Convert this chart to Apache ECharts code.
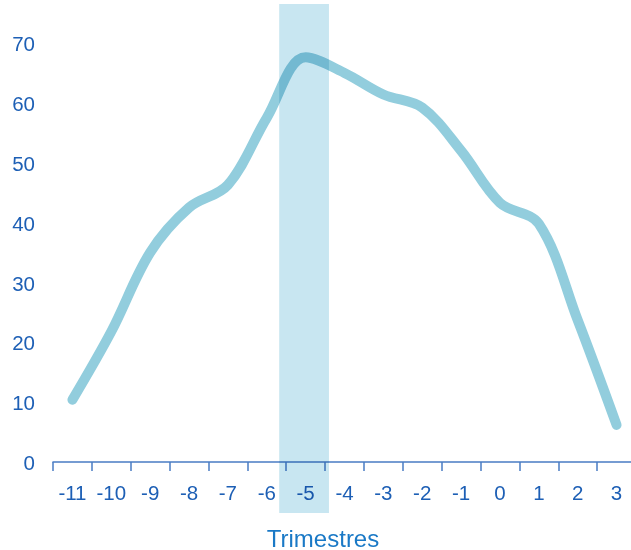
<!DOCTYPE html>
<html>
<head>
<meta charset="utf-8">
<script src="https://cdn.jsdelivr.net/npm/echarts@6/dist/echarts.min.js"></script>
<style>
  html, body { margin: 0; padding: 0; background: #ffffff; }
  #chart { width: 631px; height: 550px; }
</style>
</head>
<body>
<div id="chart"></div>
<script>
// Quarters relative to the reference quarter
const quarters = ['-11', '-10', '-9', '-8', '-7', '-6', '-5', '-4', '-3', '-2', '-1', '0', '1', '2', '3'];
const values = [10.4, 21.8, 35, 42.5, 46.3, 57.5, 67.6, 65, 61.4, 59.2, 52, 43.3, 39.8, 23.7, 6.2];
const yTicks = [0, 10, 20, 30, 40, 50, 60, 70];
// Highlighted quarter and the vertical extent of its band (axis units)
const highlightQuarter = '-5';
const highlightRange = [-8.5, 76.5];

const chart = echarts.init(document.getElementById('chart'), null, { renderer: 'canvas' });

const labelColor = '#1d5fb5';
const axisColor = '#4a7cc4';
const fontFamily = 'Liberation Sans, Arial, sans-serif';

chart.setOption({
  backgroundColor: '#ffffff',
  animation: false,
  title: {
    text: 'Trimestres',
    left: 318,
    top: 523,
    textAlign: 'center',
    textStyle: { fontFamily: fontFamily, fontSize: 24, fontWeight: 'normal', color: '#1a79c6' }
  },
  // plot area runs a little past the right edge of the canvas
  grid: { left: 53, width: 583, top: 43, bottom: 88, containLabel: false, outerBoundsMode: 'none' },
  xAxis: {
    type: 'category',
    data: quarters,
    boundaryGap: true,
    axisLine: { show: true, lineStyle: { color: axisColor, width: 1.5 } },
    axisTick: { show: true, alignWithLabel: false, length: 9, lineStyle: { color: axisColor, width: 1.5 } },
    axisLabel: { interval: 0, margin: 22, fontFamily: fontFamily, fontSize: 20.5, color: labelColor },
    splitLine: { show: false }
  },
  yAxis: {
    type: 'value',
    min: yTicks[0],
    max: yTicks[yTicks.length - 1],
    interval: 10,
    axisLine: { show: false },
    axisTick: { show: false },
    splitLine: { show: false },
    axisLabel: {
      margin: 18,
      formatter: '{v|{value}}',
      rich: {
        v: { fontFamily: fontFamily, fontSize: 20.5, color: labelColor, padding: [5, 0, 0, 0] }
      }
    }
  },
  series: [
    {
      type: 'line',
      data: values,
      smooth: 0.35,
      symbol: 'none',
      z: 2,
      clip: false,
      lineStyle: { color: '#92cddd', width: 10, cap: 'round', join: 'round' }
    },
    {
      // shaded band over the highlighted quarter, multiplied onto the curve
      type: 'custom',
      z: 3,
      clip: false,
      silent: true,
      blendMode: 'multiply',
      data: [[quarters.indexOf(highlightQuarter), highlightRange[0], highlightRange[1]]],
      renderItem: function (params, api) {
        const idx = api.value(0);
        const bottom = api.coord([idx, api.value(1)]);
        const top = api.coord([idx, api.value(2)]);
        const bw = api.size([1, 0])[0];
        const x0 = bottom[0] - bw * 0.68;
        const x1 = bottom[0] + bw * 0.6;
        return {
          type: 'rect',
          shape: { x: x0, y: top[1], width: x1 - x0, height: bottom[1] - top[1] },
          style: { fill: '#c8e6f1' }
        };
      }
    }
  ]
});
</script>
</body>
</html>
